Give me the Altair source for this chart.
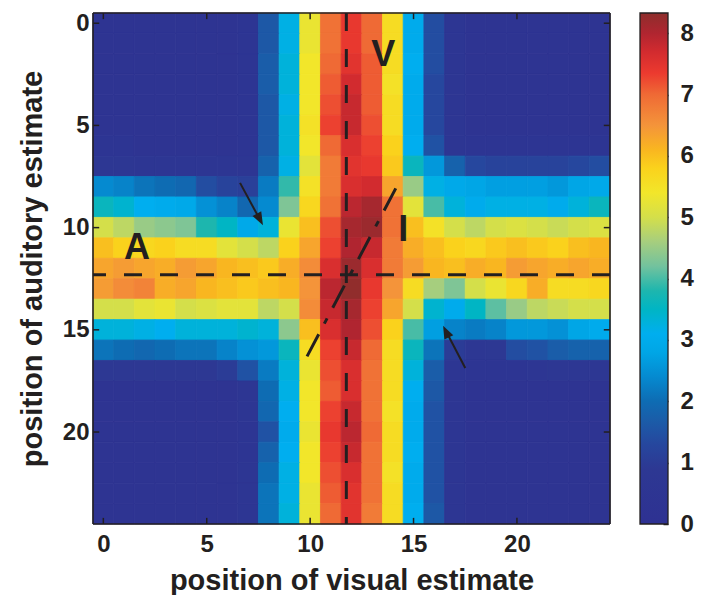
import altair as alt
import pandas as pd

# ---------------- data ----------------
positions = list(range(25))  # grid positions 0..24 (visual = columns, auditory = rows)

# rows: auditory estimate 0..24 ; columns: visual estimate 0..24
values = [
    [0.4,0.4,0.4,0.4,0.4,0.4,0.4,0.5,1.6,3.2,5.3,6.9,7.4,7.0,5.6,3.0,1.4,0.6,0.4,0.4,0.4,0.4,0.4,0.4,0.4],
    [0.4,0.4,0.4,0.4,0.4,0.4,0.4,0.5,1.6,3.2,5.3,6.9,7.4,7.0,5.6,3.0,1.4,0.6,0.4,0.4,0.4,0.4,0.4,0.4,0.4],
    [0.4,0.4,0.4,0.4,0.4,0.4,0.4,0.5,1.7,3.3,5.4,7.0,7.5,7.1,5.6,3.1,1.4,0.6,0.4,0.4,0.4,0.4,0.4,0.4,0.4],
    [0.4,0.4,0.4,0.4,0.4,0.4,0.4,0.5,1.7,3.3,5.4,7.1,7.7,7.1,5.5,3.0,1.3,0.6,0.4,0.4,0.4,0.4,0.4,0.4,0.4],
    [0.4,0.4,0.4,0.4,0.4,0.4,0.4,0.5,1.6,3.2,5.4,7.2,7.8,7.1,5.6,3.0,1.3,0.6,0.4,0.4,0.4,0.4,0.4,0.4,0.4],
    [0.4,0.4,0.4,0.4,0.4,0.4,0.4,0.5,1.6,3.3,5.5,7.3,7.8,7.2,5.6,3.0,1.3,0.6,0.4,0.4,0.4,0.4,0.4,0.4,0.4],
    [0.5,0.5,0.4,0.4,0.4,0.4,0.4,0.5,1.6,3.3,5.4,7.0,7.6,7.3,5.8,3.1,1.5,0.7,0.5,0.5,0.5,0.5,0.5,0.5,0.5],
    [0.8,0.8,0.7,0.6,0.6,0.6,0.6,0.6,1.8,3.2,5.2,6.8,7.5,7.4,5.9,3.6,2.6,1.8,1.3,1.2,1.2,1.2,1.2,1.3,1.4],
    [2.4,2.3,2.1,2.0,1.9,1.4,1.2,1.1,2.2,3.9,5.5,6.8,7.6,7.7,6.3,4.5,3.2,2.9,2.8,2.7,2.7,2.7,2.6,2.8,2.9],
    [3.6,3.4,3.1,3.0,2.9,2.5,2.3,1.9,2.4,4.3,5.7,6.9,7.9,8.1,6.9,5.2,4.0,3.3,3.0,3.2,3.2,3.2,3.0,3.3,3.6],
    [5.0,4.8,4.5,4.4,4.3,3.8,3.5,2.9,3.3,5.3,6.0,7.2,8.1,8.2,6.9,6.0,5.5,5.0,4.8,5.0,5.1,5.0,4.9,5.0,5.1],
    [6.0,5.8,5.7,5.8,5.6,5.6,5.2,5.0,4.8,5.8,6.3,7.3,8.0,7.8,6.8,6.2,6.0,5.8,5.7,5.9,6.0,5.9,5.8,6.0,6.1],
    [6.3,6.4,6.3,6.2,6.4,6.3,6.1,6.0,5.9,6.2,6.6,7.6,8.2,7.6,6.8,6.4,6.1,6.0,6.2,6.1,6.4,6.3,6.2,6.3,6.2],
    [6.4,6.6,6.7,6.2,6.3,6.1,6.0,5.9,6.0,6.1,6.5,7.9,8.3,7.4,6.5,5.6,4.6,4.3,5.0,5.3,5.7,6.2,5.6,5.6,5.7],
    [5.0,5.0,5.2,5.3,5.0,5.1,5.2,5.2,4.8,5.0,6.6,7.8,8.1,7.3,6.3,5.0,3.4,3.0,3.5,4.1,4.5,4.8,4.9,5.0,5.0],
    [3.3,3.3,3.2,3.1,3.3,3.3,3.3,3.4,3.3,4.4,6.0,7.6,8.0,7.2,5.8,4.0,2.7,2.3,2.2,2.3,2.6,2.6,2.5,2.8,3.0],
    [2.1,2.0,1.9,2.0,2.1,2.1,2.3,2.5,2.6,3.6,5.6,7.3,7.8,7.0,5.6,3.6,2.1,1.0,0.8,0.9,1.4,1.5,1.7,1.8,1.8],
    [0.9,0.9,0.9,0.9,0.9,0.9,1.0,1.5,2.2,3.3,5.3,7.2,7.6,6.9,5.6,3.3,1.7,0.6,0.5,0.5,0.5,0.6,0.8,0.8,0.8],
    [0.4,0.4,0.4,0.4,0.4,0.4,0.4,0.7,2.0,3.2,5.4,7.1,7.6,6.9,5.6,3.1,1.6,0.6,0.4,0.4,0.4,0.4,0.4,0.4,0.4],
    [0.4,0.4,0.4,0.4,0.4,0.4,0.4,0.6,1.9,3.1,5.4,7.3,7.8,6.9,5.5,3.0,1.5,0.6,0.4,0.4,0.4,0.4,0.4,0.4,0.4],
    [0.4,0.4,0.4,0.4,0.4,0.4,0.4,0.5,1.5,3.0,5.3,7.4,7.9,7.0,5.6,3.0,1.5,0.6,0.4,0.4,0.4,0.4,0.4,0.4,0.4],
    [0.4,0.4,0.4,0.4,0.4,0.4,0.4,0.5,1.8,3.1,5.4,7.3,7.8,6.9,5.6,3.1,1.5,0.6,0.4,0.4,0.4,0.4,0.4,0.4,0.4],
    [0.4,0.4,0.4,0.4,0.4,0.4,0.4,0.6,2.0,3.2,5.4,7.2,7.6,6.9,5.5,3.0,1.5,0.6,0.4,0.4,0.4,0.4,0.4,0.4,0.4],
    [0.4,0.4,0.4,0.4,0.4,0.4,0.4,0.6,2.1,3.2,5.3,7.1,7.5,6.9,5.6,3.0,1.5,0.6,0.4,0.4,0.4,0.4,0.4,0.4,0.4],
    [0.4,0.4,0.4,0.4,0.4,0.4,0.4,0.6,2.1,3.3,5.3,7.0,7.5,6.8,5.6,3.1,1.6,0.6,0.4,0.4,0.4,0.4,0.4,0.4,0.4],
]

axis_ticks = [0, 5, 10, 15, 20]
extent = [-0.5, 24.5]

# colour map (value -> colour), as in the colour bar
cmap_values = [0.0, 0.9, 1.3, 1.7, 2.0, 2.4, 2.8, 3.1, 3.5, 3.8, 4.2, 4.6, 5.0, 5.4,
               5.8, 6.1, 6.5, 7.0, 7.35, 7.7, 8.0, 8.33]
cmap_colors = ["#2E3192", "#2D3893", "#26479E", "#1A5DA9", "#0E6CB3", "#058AD0",
               "#00A6E6", "#00AEEF", "#00B5C4", "#1DB6AE", "#72C29E", "#A6CE7E",
               "#D4DF4A", "#F2E62A", "#FAD21C", "#F9B620", "#F4943A", "#EF6A35",
               "#EC3A2F", "#D22B2F", "#B02530", "#8E2E2C"]
cbar_ticks = [0, 1, 2, 3, 4, 5, 6, 7, 8]
vmax = 8.33

# reference lines (dashed)
ref_visual = 11.75
ref_auditory = 12.3
diag_vis = [9.85, 14.26]
diag_aud = [16.3, 7.85]

# arrows (tail -> tip) and their on-screen angle
arrow_tail_vis = [6.61, 17.5]
arrow_tail_aud = [7.81, 16.87]
arrow_tip_vis = [7.72, 16.43]
arrow_tip_aud = [9.88, 14.8]
arrow_angle = [152, 334]

# letter labels
label_txt = ["V", "A", "I"]
label_vis = [13.53, 1.63, 14.5]
label_aud = [1.55, 11.0, 10.1]

# ---------------- chart ----------------
FONT = "Arial, 'Liberation Sans', Helvetica, sans-serif"
INK = "#231F20"

cells = pd.DataFrame(
    [{"vis": x, "aud": y, "v": values[y][x]} for y in positions for x in positions]
)

xscale = alt.Scale(domain=extent, nice=False, zero=False)
yscale = alt.Scale(domain=extent, nice=False, zero=False, reverse=True)
cscale = alt.Scale(domain=cmap_values, range=cmap_colors, interpolate="rgb", clamp=True)

heat = (
    alt.Chart(cells)
    .transform_calculate(
        x0="datum.vis - 0.5", x1="datum.vis + 0.5",
        y0="datum.aud - 0.5", y1="datum.aud + 0.5",
    )
    .mark_rect(strokeWidth=0.8)
    .encode(
        x=alt.X("x0:Q", scale=xscale,
                axis=alt.Axis(values=axis_ticks, title="position of visual estimate",
                              labelPadding=8, titlePadding=10)),
        x2="x1:Q",
        y=alt.Y("y0:Q", scale=yscale,
                axis=alt.Axis(values=axis_ticks, title="position of auditory estimate",
                              labelPadding=4, titlePadding=15)),
        y2="y1:Q",
        color=alt.Color("v:Q", scale=cscale, legend=None),
        stroke=alt.Stroke("v:Q", scale=cscale, legend=None),
    )
)

vline = (
    alt.Chart(pd.DataFrame({"vis": [ref_visual]}))
    .mark_rule(color=INK, strokeWidth=3, strokeDash=[18, 18])
    .encode(x="vis:Q")
)
hline = (
    alt.Chart(pd.DataFrame({"aud": [ref_auditory]}))
    .mark_rule(color=INK, strokeWidth=3, strokeDash=[18, 18])
    .encode(y="aud:Q")
)
diag = (
    alt.Chart(pd.DataFrame({"vis": diag_vis, "aud": diag_aud}))
    .mark_line(color=INK, strokeWidth=3, strokeDash=[25, 12, 6, 12])
    .encode(x="vis:Q", y="aud:Q")
)

arrows = pd.DataFrame({
    "x0": arrow_tail_vis, "y0": arrow_tail_aud,
    "x1": arrow_tip_vis, "y1": arrow_tip_aud, "ang": arrow_angle,
})
shaft = (
    alt.Chart(arrows)
    .transform_calculate(
        L="sqrt(pow(datum.x1 - datum.x0, 2) + pow(datum.y1 - datum.y0, 2))",
        sx="datum.x1 - 0.35 * (datum.x1 - datum.x0) / datum.L",
        sy="datum.y1 - 0.35 * (datum.y1 - datum.y0) / datum.L",
    )
    .mark_rule(color=INK, strokeWidth=2)
    .encode(x="x0:Q", y="y0:Q", x2="sx:Q", y2="sy:Q")
)
head = (
    alt.Chart(arrows)
    .mark_point(shape="M0,0L0.38,1L-0.38,1Z", filled=True, size=676,
                color=INK, opacity=1, strokeWidth=0)
    .encode(x="x1:Q", y="y1:Q", angle=alt.Angle("ang:Q", scale=None))
)

letters = (
    alt.Chart(pd.DataFrame({"txt": label_txt, "vis": label_vis, "aud": label_aud}))
    .mark_text(font=FONT, fontSize=36, fontWeight="bold", color=INK,
               align="center", baseline="middle")
    .encode(x="vis:Q", y="aud:Q", text="txt:N")
)

lo, hi = extent
tick_len = 0.3
seg = []
for t in axis_ticks:
    seg.append((t, hi, t, hi - tick_len))   # bottom
    seg.append((t, lo, t, lo + tick_len))   # top
    seg.append((lo, t, lo + tick_len, t))   # left
    seg.append((hi, t, hi - tick_len, t))   # right
inner_ticks = (
    alt.Chart(pd.DataFrame(seg, columns=["a", "b", "c", "d"]))
    .mark_rule(color=INK, strokeWidth=1.5)
    .encode(x="a:Q", y="b:Q", x2="c:Q", y2="d:Q")
)

frame_df = pd.DataFrame(
    [(lo, lo, lo, hi), (hi, lo, hi, hi), (lo, lo, hi, lo), (lo, hi, hi, hi)],
    columns=["a", "b", "c", "d"],
)
frame = (
    alt.Chart(frame_df)
    .mark_rule(color=INK, strokeWidth=1.6)
    .encode(x="a:Q", y="b:Q", x2="c:Q", y2="d:Q")
)

main = alt.layer(heat, vline, hline, diag, shaft, head, letters, inner_ticks, frame)

gradient = alt.Gradient(
    gradient="linear",
    stops=[alt.GradientStop(offset=v / vmax, color=c) for v, c in zip(cmap_values, cmap_colors)],
    x1=0, x2=0, y1=1, y2=0,
)
cbar = (
    alt.Chart(pd.DataFrame({"lo": [0.0], "hi": [vmax]}))
    .mark_rect(fill=gradient, stroke=INK, strokeWidth=1.3)
    .encode(
        x=alt.value(547), x2=alt.value(575),
        y=alt.Y("lo:Q", scale=alt.Scale(domain=[0, vmax], nice=False, zero=False),
                axis=alt.Axis(orient="right", values=cbar_ticks, offset=53,
                              ticks=True, tickSize=5, tickWidth=1.5, tickColor=INK,
                              labelPadding=12, title=None)),
        y2="hi:Q",
    )
)

chart = (
    alt.layer(main, cbar)
    .resolve_scale(y="independent")
    .properties(width=517, height=511,
                padding={"left": 10, "top": 3, "right": 5, "bottom": 0},
                background="white")
    .configure_view(stroke=None)
    .configure_axis(
        labelFont=FONT, titleFont=FONT,
        labelFontSize=24, titleFontSize=29,
        labelFontWeight="bold", titleFontWeight="bold",
        labelColor=INK, titleColor=INK,
        ticks=False, tickSize=0, domain=False, grid=False,
    )
)

chart.save("out.html", embed_options={"renderer": "svg", "actions": False})
